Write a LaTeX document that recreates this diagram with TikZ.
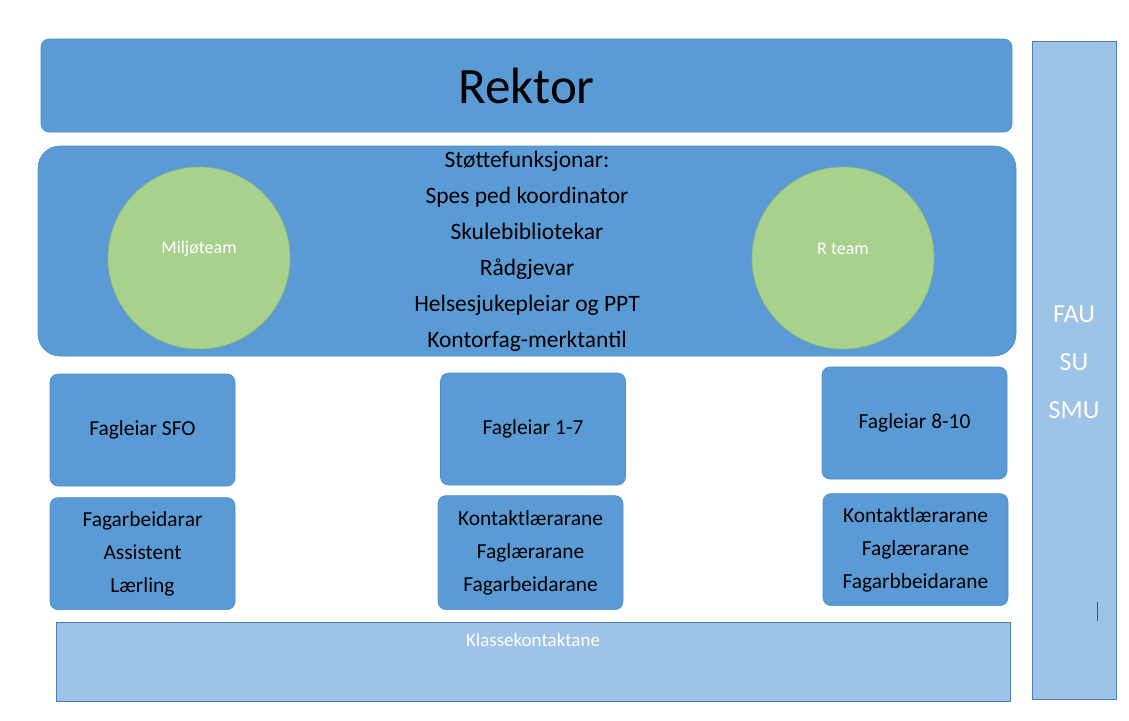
\documentclass[tikz,border=0pt]{standalone}
\usepackage{fontspec}
\setmainfont{Carlito}
\usepackage{tikz}
\usetikzlibrary{positioning}
\definecolor{boxblue}{HTML}{5B9BD5}
\definecolor{boxedge}{HTML}{4F8DC8}
\definecolor{paleblue}{HTML}{9DC3E6}
\definecolor{paleedge}{HTML}{4A7FB5}
\definecolor{teamgreen}{HTML}{A9D18E}
\definecolor{teamedge}{HTML}{8FBC70}
\tikzstyle{box} = [rectangle, rounded corners = 8, minimum width = 185,
  minimum height = 112, fill = boxblue, draw = boxedge, line width = 0.6,
  align = center, font = \fontsize{21.4}{33}\selectfont]
\tikzstyle{team} = [
  circle, minimum size = 182,
  fill = teamgreen, draw = teamedge, line width = 0.6
]
\tikzstyle{bar} = [rectangle, fill = paleblue, draw = paleedge, line width = 0.6]
\tikzstyle{whitetext} = [text = white, align = center]

\begin{document}
\begin{tikzpicture}[x = 1pt, y = -1pt, node distance = 0]
      \useasboundingbox (0, 0) rectangle (1129, 720);
      % rektor
      \node [box, minimum width = 971, minimum height = 93,
        font = \fontsize{51}{51}\selectfont] (rektor) at (526.5, 85.5) {Rektor};
      % stottefunksjonar
      \node [box, rounded corners = 22, minimum width = 978,
        minimum height = 210] (stotte) at (527, 251) {};
      \node [team] (miljo) at (199, 258) {};
      \node [team] (rteam) at (843, 258) {};
      \node [whitetext, font = \fontsize{18}{18}\selectfont]
        at ([yshift = 9] miljo.center) {Miljøteam};
      \node [whitetext, font = \fontsize{18}{18}\selectfont]
        at ([yshift = 9] rteam.center) {R team};
      \node [align = center, font = \fontsize{23.5}{36}\selectfont]
        (stottetekst) at (stotte.center) {Støttefunksjonar:\\Spes ped koordinator\\
        Skulebibliotekar\\Rådgjevar\\Helsesjukepleiar og PPT\\Kontorfag-merktantil};
      % fagleiarar
      \node [box] (fsfo) at (142.5, 430) {Fagleiar SFO};
      \node [box] (f17) at (533, 429) {Fagleiar 1-7};
      \node [box] (f810) at (914.5, 423) {Fagleiar 8-10};
      % tilsette
      \node [box, below = 11pt of fsfo] (tsfo) {Fagarbeidarar\\Assistent\\Lærling};
      \node [box, minimum height = 114, below = 10pt of f17, xshift = -2.5]
        (t17) {Kontaktlærarane\\Faglærarane\\Fagarbeidarane};
      \node [box, below = 14pt of f810, xshift = 1] (t810)
        {Kontaktlærarane\\Faglærarane\\Fagarbbeidarane};
      % klassekontaktar
      \node [bar, minimum width = 954, minimum height = 79] (klasse) at (533, 661.5) {};
      \node [whitetext, font = \fontsize{19}{19}\selectfont]
        at ([yshift = -18] klasse.north) {Klassekontaktane};
      % fau su smu
      \node [bar, minimum width = 84, minimum height = 658] (raad) at (1074, 370) {};
      \node [whitetext, font = \fontsize{26}{48}\selectfont]
        at (1074, 362) {FAU\\SU\\SMU};
      \coordinate (markar) at (1097, 602);
      \draw [brown!60!black, line width = 0.8] (markar) -- +(0, 19);
    \end{tikzpicture}
\end{document}
